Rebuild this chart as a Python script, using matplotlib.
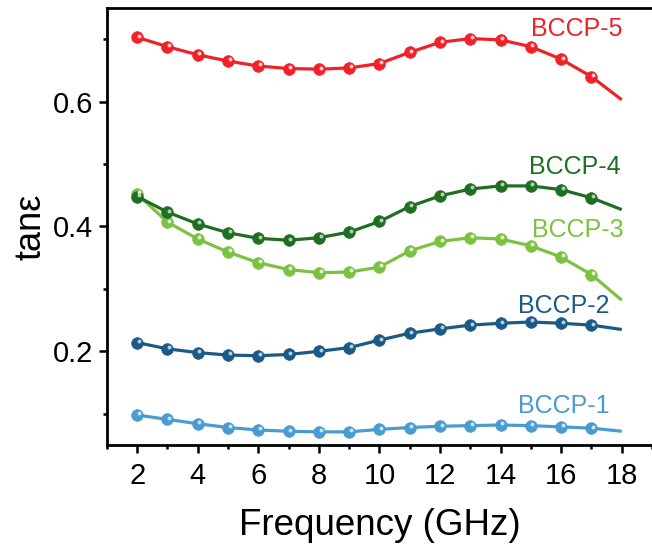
import matplotlib
matplotlib.use("Agg")
import matplotlib.pyplot as plt
from matplotlib.ticker import MultipleLocator
from matplotlib.transforms import offset_copy

plt.rcParams['font.family'] = ['Liberation Sans', 'DejaVu Sans']

# dielectric loss tangent vs frequency, 2-18 GHz
freq = [2, 3, 4, 5, 6, 7, 8, 9, 10, 11, 12, 13, 14, 15, 16, 17, 18]
bccp1 = [0.098, 0.091, 0.084, 0.078, 0.074, 0.072, 0.071, 0.071, 0.075, 0.078,
         0.080, 0.081, 0.082, 0.081, 0.079, 0.077, 0.072]
bccp2 = [0.214, 0.204, 0.198, 0.194, 0.193, 0.195, 0.200, 0.206, 0.218, 0.229,
         0.236, 0.242, 0.245, 0.247, 0.245, 0.242, 0.235]
bccp3 = [0.452, 0.407, 0.380, 0.359, 0.342, 0.331, 0.326, 0.327, 0.335, 0.361,
         0.376, 0.382, 0.380, 0.369, 0.351, 0.323, 0.282]
bccp4 = [0.448, 0.423, 0.404, 0.390, 0.381, 0.378, 0.382, 0.391, 0.408, 0.432,
         0.449, 0.460, 0.465, 0.465, 0.459, 0.446, 0.427]
bccp5 = [0.703, 0.688, 0.675, 0.665, 0.657, 0.653, 0.652, 0.654, 0.661, 0.679,
         0.695, 0.701, 0.699, 0.688, 0.668, 0.640, 0.603]

names = ['BCCP-1', 'BCCP-2', 'BCCP-3', 'BCCP-4', 'BCCP-5']
series = [bccp1, bccp2, bccp3, bccp4, bccp5]
colors = ['#4a9bcf', '#1b5a86', '#7cc242', '#1f6e22', '#ef2229']
shines = ['#c9e4f5', '#b8cfe0', '#e2f4cf', '#b5d1b5', '#ffd0d3']
label_pos = [(16.07, 0.113), (16.09, 0.272), (16.54, 0.3945), (16.46, 0.496), (16.52, 0.716)]

fig = plt.figure(figsize=(6.52, 5.51), dpi=100)
ax = fig.add_axes([0.164, 0.1924, 0.836, 0.7931])

shine_tr = offset_copy(ax.transData, fig=fig, x=1.6, y=1.6, units='dots')

for name, vals, c, sc, (lx, ly) in zip(names, series, colors, shines, label_pos):
    ax.plot(freq, vals, color=c, lw=2.3, solid_capstyle='butt', zorder=2)
    # ball markers with a small highlight, none on the last point
    ax.plot(freq[:-1], vals[:-1], ls='none', marker='o', ms=8.4,
            mfc=c, mec=c, mew=0.5, zorder=3)
    ax.plot(freq[:-1], vals[:-1], ls='none', marker='o', ms=2.8,
            mfc=sc, mec='none', transform=shine_tr, zorder=4)
    ax.text(lx, ly, name, color=c, fontsize=18, ha='center', va='center')

ax.set_xlim(1, 19)
ax.set_ylim(0.05, 0.75)
ax.xaxis.set_major_locator(MultipleLocator(2))
ax.xaxis.set_minor_locator(MultipleLocator(1))
ax.yaxis.set_major_locator(MultipleLocator(0.2))
ax.yaxis.set_minor_locator(MultipleLocator(0.1))
ax.set_yticks([0.2, 0.4, 0.6])
ax.set_yticklabels(['0.2', '0.4', '0.6'])

for s in ['left', 'bottom', 'top']:
    ax.spines[s].set_linewidth(2.0)
ax.spines['right'].set_visible(False)

ax.tick_params(which='major', length=6, width=1.8, labelsize=21, direction='out')
ax.tick_params(which='minor', length=3.2, width=1.8, direction='out')
ax.tick_params(axis='x', which='both', top=False, pad=6)
ax.tick_params(axis='y', which='both', right=False, pad=4)

ax.set_xlabel('Frequency (GHz)', fontsize=26.5, labelpad=13)
ax.set_ylabel('tanε', fontsize=26, labelpad=3)

fig.savefig('out.png', dpi=100)
